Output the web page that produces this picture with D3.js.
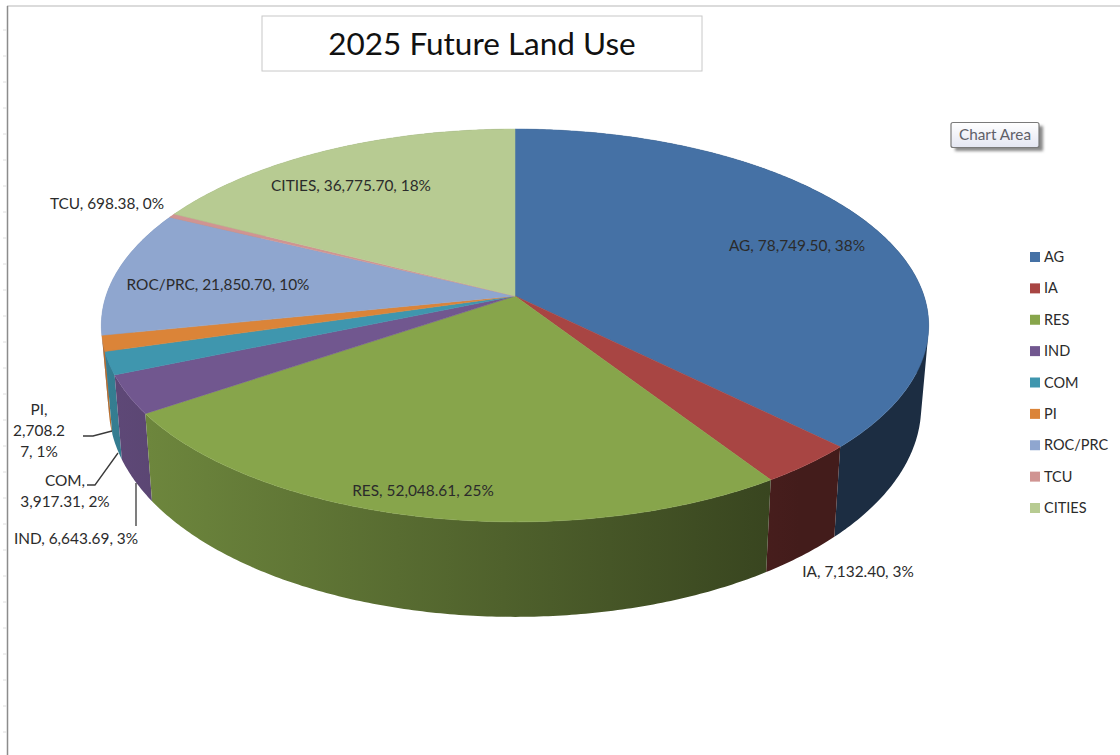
<!DOCTYPE html>
<html>
<head>
<meta charset="utf-8">
<title>2025 Future Land Use</title>
<script src="https://cdn.jsdelivr.net/npm/d3@7"></script>
<style>
  html, body { margin: 0; padding: 0; background: #fff; overflow: hidden; }
  text { font-family: Lato, "Open Sans", sans-serif; fill: #2b2b2b; }
</style>
</head>
<body>
<div id="chart"></div>
<script>
// values as printed on the data labels
var categories = ["AG", "IA", "RES", "IND", "COM", "PI", "ROC/PRC", "TCU", "CITIES"];
var acres = [78749.50, 7132.40, 52048.61, 6643.69, 3917.31, 2708.27, 21850.70, 698.38, 36775.70];
var percents = ["38%", "3%", "25%", "3%", "2%", "1%", "10%", "0%", "18%"];
var colors = ["#4571a5", "#a84543", "#87a54b", "#71578f", "#3f96ae", "#db8438", "#8fa6cf", "#d09492", "#b7cb92"];

// where each label sits, same order as categories. x,y is the middle of the first line
var labelPos = [
  {x: 797, y: 246}, {x: 858, y: 572}, {x: 423, y: 491}, {x: 76, y: 539}, {x: 65, y: 481},
  {x: 39, y: 410}, {x: 218, y: 285}, {x: 107, y: 204}, {x: 351, y: 186}
];
// the PI label wraps in the middle of the number
var wrapped = {PI: ["PI,", "2,708.2", "7, 1%"], COM: ["COM,", "3,917.31, 2%"]};
var leaders = [
  [[83, 436], [93, 436], [112, 431]],
  [[87, 485], [95, 485], [118, 453]],
  [[136, 483], [136, 526]]
];

var width = 1120, height = 755;
var cx = 515, cy = 296;
var K = 409, kY = 192, p = 0.15;

var svg = d3.select("#chart").append("svg")
  .attr("width", width)
  .attr("height", height);
var defs = svg.append("defs");

// window edge and the row ticks of the sheet behind the chart
svg.append("line").attr("x1", 7).attr("x2", width).attr("y1", 6).attr("y2", 6)
  .attr("stroke", "#cfcfcf").attr("stroke-width", 1.5);
svg.append("line").attr("x1", 7.5).attr("x2", 7.5).attr("y1", 6).attr("y2", height)
  .attr("stroke", "#8c8c8c").attr("stroke-width", 1.5);
svg.selectAll(".rowtick").data(d3.range(30, height, 26)).enter().append("line")
  .attr("class", "rowtick")
  .attr("x1", 3).attr("x2", 7).attr("y1", function(d) { return d; }).attr("y2", function(d) { return d; })
  .attr("stroke", "#dedede");

// title
svg.append("rect").attr("x", 262).attr("y", 16).attr("width", 440).attr("height", 55)
  .attr("fill", "#fff").attr("stroke", "#c8c8c8");
svg.append("text").attr("x", 482).attr("y", 55).attr("text-anchor", "middle")
  .style("font-size", "31.5px").style("fill", "#111").text("2025 Future Land Use");

// tilted circle: theta is clockwise from 12 o'clock
function topRim(theta) {
  var u = Math.sin(theta), v = -Math.cos(theta);
  var w = 1 - p * v;
  return [cx + K * u / w, cy + kY * v / w];
}
function bottomRim(theta) {
  var t = topRim(theta), v = -Math.cos(theta);
  return [cx + (t[0] - cx) * 0.982, t[1] + 78 + 17 * v];
}
function arcPoints(fn, a0, a1) {
  var n = Math.max(2, Math.ceil((a1 - a0) / 0.01));
  return d3.range(n + 1).map(function(i) { return fn(a0 + (a1 - a0) * i / n); });
}

var line = d3.line();
var pie = d3.pie().sort(null).value(function(d) { return d; });
var slices = pie(acres);

// wall of one slice as thin quads, all wound the same way so the fold at the sides fills
function wallPath(d) {
  var a = arcPoints(topRim, d.startAngle, d.endAngle);
  var b = arcPoints(bottomRim, d.startAngle, d.endAngle);
  var out = "";
  for (var i = 0; i < a.length - 1; i++) {
    var quad = [a[i], a[i + 1], b[i + 1], b[i]];
    if (d3.polygonArea(quad) < 0) quad.reverse();
    out += line(quad) + "Z";
  }
  return out;
}

// side walls get darker to the right
var shade = d3.scaleLinear().domain([101, 800]).range([0.84, 0.4]).clamp(true);
slices.forEach(function(s, i) {
  s.index = i;
  var g = defs.append("linearGradient").attr("id", "side" + i)
    .attr("gradientUnits", "userSpaceOnUse")
    .attr("x1", 101).attr("x2", 800).attr("y1", 0).attr("y2", 0);
  [101, 800].forEach(function(x, j) {
    var c = d3.rgb(colors[i]), f = shade(x);
    g.append("stop").attr("offset", j)
      .attr("stop-color", d3.rgb(c.r * f, c.g * f, c.b * f).formatHex());
  });
});

// back walls first
var byDepth = slices.slice().sort(function(a, b) {
  return -Math.cos((a.startAngle + a.endAngle) / 2) - -Math.cos((b.startAngle + b.endAngle) / 2);
});
svg.selectAll(".side").data(byDepth).enter().append("path")
  .attr("class", "side")
  .attr("d", wallPath)
  .attr("fill", function(d) { return "url(#side" + d.index + ")"; });

svg.selectAll(".slice").data(slices).enter().append("path")
  .attr("class", "slice")
  .attr("d", function(d) {
    return line([[cx, cy]].concat(arcPoints(topRim, d.startAngle, d.endAngle))) + "Z";
  })
  .attr("fill", function(d, i) { return colors[i]; })
  .attr("stroke", function(d, i) { return colors[i]; })
  .attr("stroke-width", 0.5);

// leader lines
svg.selectAll(".leader").data(leaders).enter().append("path")
  .attr("class", "leader")
  .attr("d", line)
  .attr("fill", "none")
  .attr("stroke", "#3a3a3a")
  .attr("stroke-width", 1.3);

// data labels
var fmt = d3.format(",.2f");
categories.forEach(function(name, i) {
  var lines = wrapped[name] || [name + ", " + fmt(acres[i]) + ", " + percents[i]];
  lines.forEach(function(txt, j) {
    svg.append("text")
      .attr("x", labelPos[i].x)
      .attr("y", labelPos[i].y + j * 21)
      .attr("dy", "0.35em")
      .attr("text-anchor", "middle")
      .style("font-size", "15.4px")
      .text(txt);
  });
});

// legend
var legendY = d3.scalePoint().domain(categories).range([257, 508]);
var legend = svg.selectAll(".legend").data(categories).enter().append("g")
  .attr("class", "legend")
  .attr("transform", function(d) { return "translate(1030," + legendY(d) + ")"; });
legend.append("rect").attr("x", 0).attr("y", -5).attr("width", 10).attr("height", 10)
  .attr("fill", function(d, i) { return colors[i]; });
legend.append("text").attr("x", 14).attr("dy", "0.35em")
  .style("font-size", "14.5px").text(function(d) { return d; });

// the "Chart Area" hover tip that got caught in the screenshot
var tipGrad = defs.append("linearGradient").attr("id", "tipFill")
  .attr("x1", 0).attr("x2", 0).attr("y1", 0).attr("y2", 1);
tipGrad.append("stop").attr("offset", 0).attr("stop-color", "#ffffff");
tipGrad.append("stop").attr("offset", 1).attr("stop-color", "#e4e6f2");
var tipBlur = defs.append("filter").attr("id", "tipShadow");
tipBlur.append("feGaussianBlur").attr("stdDeviation", 1.5);
svg.append("rect").attr("x", 955).attr("y", 126).attr("width", 88).attr("height", 25)
  .attr("fill", "#888").attr("filter", "url(#tipShadow)");
svg.append("rect").attr("x", 951).attr("y", 122.5).attr("width", 88).attr("height", 25).attr("rx", 2)
  .attr("fill", "url(#tipFill)").attr("stroke", "#7a7a7a").attr("stroke-width", 1.2);
svg.append("text").attr("x", 995).attr("y", 135).attr("dy", "0.35em").attr("text-anchor", "middle")
  .style("font-size", "15.3px").style("fill", "#5f6068").text("Chart Area");
</script>
</body>
</html>
